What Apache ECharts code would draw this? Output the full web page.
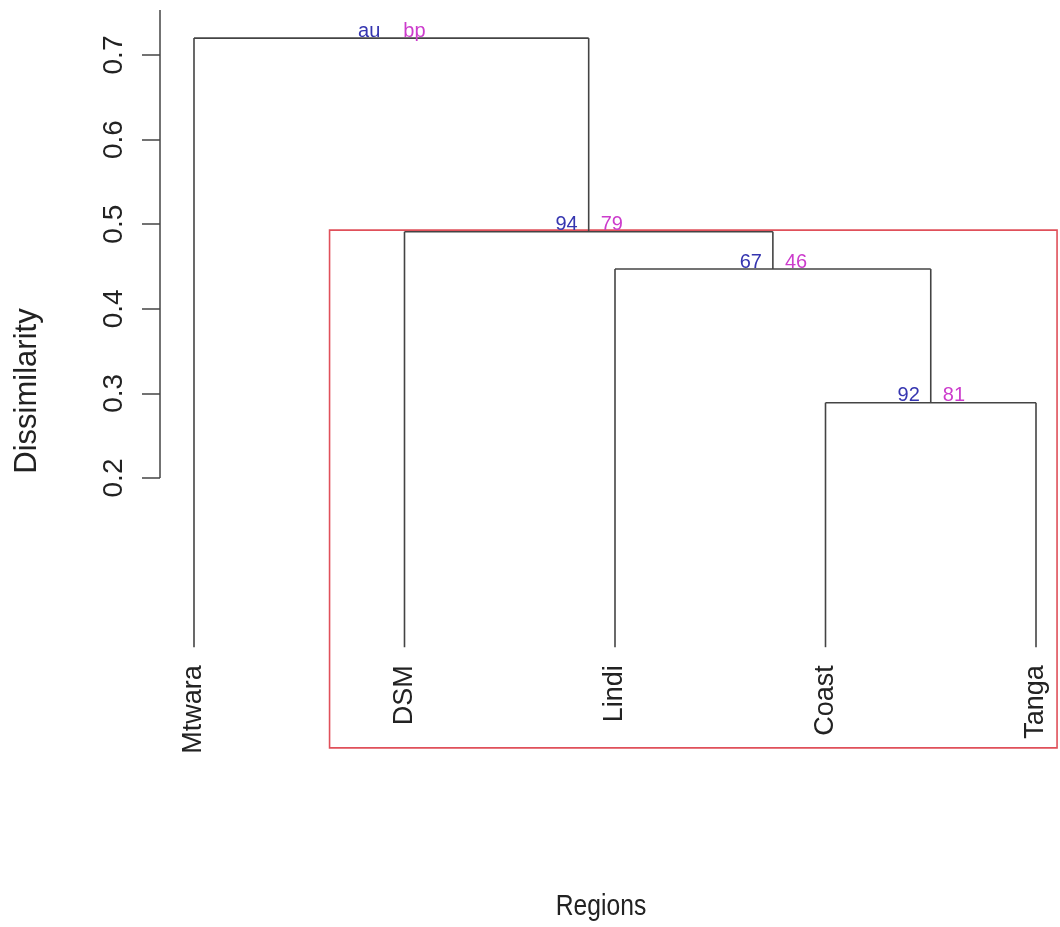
<!DOCTYPE html>
<html>
<head>
<meta charset="utf-8">
<script src="https://cdn.jsdelivr.net/npm/echarts@6/dist/echarts.min.js"></script>
<style>
  html, body { margin: 0; padding: 0; background: #fff; }
  #dendro { width: 1060px; height: 927px; }
</style>
</head>
<body>
<div id="dendro"></div>
<script>
// leaves in plotting order (position 1..5)
var leaves = ['Mtwara', 'DSM', 'Lindi', 'Coast', 'Tanga'];
// hclust style merge table: negative = leaf, positive = earlier cluster
var mergeLeft = [-4, -3, -2, -1];
var mergeRight = [-5, 1, 2, 3];
var mergeHeight = [0.289, 0.447, 0.491, 0.720];
// pvclust p-values (root gets the legend text)
var auLabels = ['92', '67', '94', 'au'];
var bpLabels = ['81', '46', '79', 'bp'];
var yTicks = [0.2, 0.3, 0.4, 0.5, 0.6, 0.7];
// pvrect box around the significant cluster
var rectX = [1.644, 5.1];
var rectY = [-0.119, 0.493];

var XMIN = 0.8385, XMAX = 5.114;
var YMIN = -0.2, YMAX = 0.7532;

var segments = [];
var nodes = [];
(function () {
    var pos = [], hgt = [];
    function node(ref) {
        return ref < 0 ? { x: -ref, h: 0 } : { x: pos[ref - 1], h: hgt[ref - 1] };
    }
    for (var k = 0; k < mergeHeight.length; k++) {
        var a = node(mergeLeft[k]), b = node(mergeRight[k]), h = mergeHeight[k];
        segments.push([a.x, a.h, a.x, h]);
        segments.push([b.x, b.h, b.x, h]);
        segments.push([a.x, h, b.x, h]);
        pos[k] = (a.x + b.x) / 2;
        hgt[k] = h;
        nodes.push([pos[k], h, k]);
    }
})();

var leafData = leaves.map(function (n, i) { return [i + 1, 0, i]; });
var axisSeg = [[XMIN, yTicks[0], XMIN, YMAX]];
var rectData = [[rectX[0], rectY[0], rectX[1], rectY[1]]];

var FONT = 'Liberation Sans, Arial, sans-serif';

function lineItem(color, width) {
    return function (params, api) {
        var p1 = api.coord([api.value(0), api.value(1)]);
        var p2 = api.coord([api.value(2), api.value(3)]);
        return {
            type: 'line',
            shape: { x1: p1[0], y1: p1[1], x2: p2[0], y2: p2[1] },
            style: { stroke: color, lineWidth: width }
        };
    };
}

var chart = echarts.init(document.getElementById('dendro'));
chart.setOption({
    backgroundColor: '#fff',
    animation: false,
    grid: { left: 160, right: 0, top: 10, bottom: 110.6 },
    xAxis: { type: 'value', min: XMIN, max: XMAX, show: false },
    yAxis: {
        type: 'value',
        min: YMIN,
        max: YMAX,
        axisLine: { show: false },
        splitLine: { show: false },
        axisTick: {
            show: true, length: 18, customValues: yTicks,
            lineStyle: { color: '#444', width: 1.5 }
        },
        axisLabel: {
            rotate: 90, margin: 32, customValues: yTicks,
            fontSize: 28, fontFamily: FONT, color: '#222',
            formatter: function (v) { return v.toFixed(1); }
        }
    },
    graphic: [
        {
            type: 'text', x: 27, y: 391, rotation: Math.PI / 2,
            style: { text: 'Dissimilarity', fontSize: 31, fontFamily: FONT, fill: '#222', align: 'center', verticalAlign: 'middle' }
        },
        {
            type: 'text', x: 601, y: 907, scaleX: 0.85,
            style: { text: 'Regions', fontSize: 29, fontFamily: FONT, fill: '#222', align: 'center', verticalAlign: 'middle' }
        }
    ],
    series: [
        {
            type: 'custom', name: 'axis', clip: false, silent: true,
            data: axisSeg, encode: { x: [0, 2], y: [1, 3] },
            renderItem: lineItem('#444', 1.5)
        },
        {
            type: 'custom', name: 'pvrect', clip: false, silent: true,
            data: rectData, encode: { x: [0, 2], y: [1, 3] },
            renderItem: function (params, api) {
                var p1 = api.coord([api.value(0), api.value(1)]);
                var p2 = api.coord([api.value(2), api.value(3)]);
                return {
                    type: 'rect',
                    shape: { x: p1[0], y: p2[1], width: p2[0] - p1[0], height: p1[1] - p2[1] },
                    style: { fill: 'none', stroke: '#e0505a', lineWidth: 1.6 }
                };
            }
        },
        {
            type: 'custom', name: 'tree', clip: false, silent: true,
            data: segments, encode: { x: [0, 2], y: [1, 3] },
            renderItem: lineItem('#444', 1.6)
        },
        {
            type: 'custom', name: 'pv', clip: false, silent: true,
            data: nodes, encode: { x: 0, y: 1 },
            renderItem: function (params, api) {
                var p = api.coord([api.value(0), api.value(1)]);
                var k = api.value(2);
                return {
                    type: 'group',
                    children: [
                        {
                            type: 'text', x: p[0] - 11, y: p[1] + 3,
                            style: { text: auLabels[k], fontSize: 20, fontFamily: FONT, fill: '#3535b0', align: 'right', verticalAlign: 'bottom' }
                        },
                        {
                            type: 'text', x: p[0] + 12, y: p[1] + 3,
                            style: { text: bpLabels[k], fontSize: 20, fontFamily: FONT, fill: '#cc3ccc', align: 'left', verticalAlign: 'bottom' }
                        }
                    ]
                };
            }
        },
        {
            type: 'custom', name: 'leaves', clip: false, silent: true,
            data: leafData, encode: { x: 0, y: 1 },
            renderItem: function (params, api) {
                var p = api.coord([api.value(0), api.value(1)]);
                return {
                    type: 'text', x: p[0], y: p[1] + 18, rotation: Math.PI / 2,
                    style: { text: leaves[api.value(2)], fontSize: 27, fontFamily: FONT, fill: '#222', align: 'right', verticalAlign: 'middle' }
                };
            }
        }
    ]
});
window.onresize = chart.resize;
</script>
</body>
</html>
